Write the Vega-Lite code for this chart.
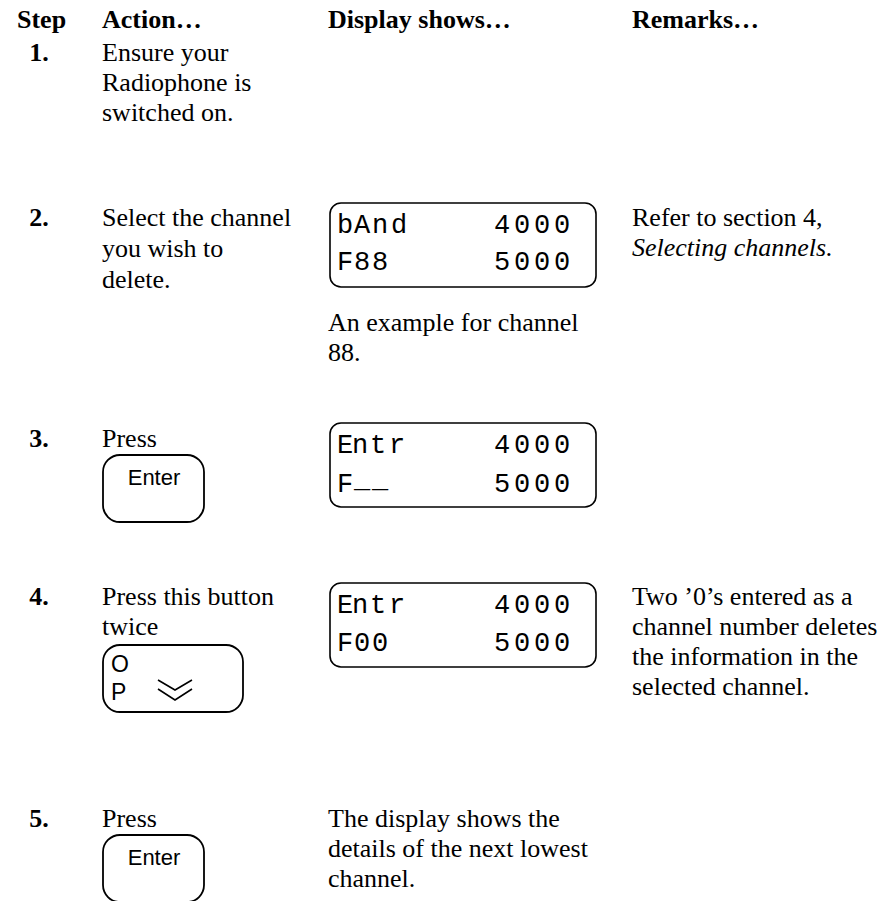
{
  "$schema": "https://vega.github.io/schema/vega-lite/v6.json",
  "width": 886,
  "height": 901,
  "padding": 0,
  "autosize": {"type": "none"},
  "background": "white",
  "config": {"view": {"stroke": null}},
  "datasets": {
    "headers": [
      {"t": "Step", "x": 17, "y": 28},
      {"t": "Action…", "x": 102, "y": 28},
      {"t": "Display shows…", "x": 328, "y": 28},
      {"t": "Remarks…", "x": 632, "y": 28}
    ],
    "steps": [
      {"t": "1.", "x": 39, "y": 61},
      {"t": "2.", "x": 39, "y": 226},
      {"t": "3.", "x": 39, "y": 447},
      {"t": "4.", "x": 39, "y": 605},
      {"t": "5.", "x": 39, "y": 827}
    ],
    "body": [
      {"t": "Ensure your", "x": 102, "y": 61},
      {"t": "Radiophone is", "x": 102, "y": 91},
      {"t": "switched on.", "x": 102, "y": 121},
      {"t": "Select the channel", "x": 102, "y": 226},
      {"t": "you wish to", "x": 102, "y": 257},
      {"t": "delete.", "x": 102, "y": 288},
      {"t": "An example for channel", "x": 328, "y": 331},
      {"t": "88.", "x": 328, "y": 361},
      {"t": "Refer to section 4,", "x": 632, "y": 226},
      {"t": "Press", "x": 102, "y": 447},
      {"t": "Press this button", "x": 102, "y": 605},
      {"t": "twice", "x": 102, "y": 635},
      {"t": "Two ’0’s entered as a", "x": 632, "y": 605},
      {"t": "channel number deletes", "x": 632, "y": 635},
      {"t": "the information in the", "x": 632, "y": 665},
      {"t": "selected channel.", "x": 632, "y": 695},
      {"t": "Press", "x": 102, "y": 827},
      {"t": "The display shows the", "x": 328, "y": 827},
      {"t": "details of the next lowest", "x": 328, "y": 857},
      {"t": "channel.", "x": 328, "y": 887}
    ],
    "italic": [
      {"t": "Selecting channels.", "x": 632, "y": 256}
    ],
    "keys": [
      {"t": "Enter", "x": 154, "y": 485},
      {"t": "Enter", "x": 154, "y": 865}
    ],
    "keys2": [
      {"t": "O", "x": 111, "y": 672},
      {"t": "P", "x": 111, "y": 700}
    ],
    "lcd": [
      {"t": "b", "x": 345, "y": 233}, {"t": "A", "x": 362, "y": 233}, {"t": "n", "x": 380, "y": 233}, {"t": "d", "x": 399, "y": 233},
      {"t": "4", "x": 502, "y": 233}, {"t": "0", "x": 522, "y": 233}, {"t": "0", "x": 542, "y": 233}, {"t": "0", "x": 562, "y": 233},
      {"t": "F", "x": 345, "y": 270}, {"t": "8", "x": 362, "y": 270}, {"t": "8", "x": 380, "y": 270},
      {"t": "5", "x": 502, "y": 270}, {"t": "0", "x": 522, "y": 270}, {"t": "0", "x": 542, "y": 270}, {"t": "0", "x": 562, "y": 270},
      {"t": "E", "x": 345, "y": 453}, {"t": "n", "x": 360, "y": 453}, {"t": "t", "x": 378, "y": 453}, {"t": "r", "x": 397, "y": 453},
      {"t": "4", "x": 502, "y": 453}, {"t": "0", "x": 522, "y": 453}, {"t": "0", "x": 542, "y": 453}, {"t": "0", "x": 562, "y": 453},
      {"t": "F", "x": 345, "y": 492}, {"t": "_", "x": 362, "y": 487}, {"t": "_", "x": 380, "y": 487},
      {"t": "5", "x": 502, "y": 492}, {"t": "0", "x": 522, "y": 492}, {"t": "0", "x": 542, "y": 492}, {"t": "0", "x": 562, "y": 492},
      {"t": "E", "x": 345, "y": 613}, {"t": "n", "x": 360, "y": 613}, {"t": "t", "x": 378, "y": 613}, {"t": "r", "x": 397, "y": 613},
      {"t": "4", "x": 502, "y": 613}, {"t": "0", "x": 522, "y": 613}, {"t": "0", "x": 542, "y": 613}, {"t": "0", "x": 562, "y": 613},
      {"t": "F", "x": 345, "y": 651}, {"t": "0", "x": 362, "y": 651}, {"t": "0", "x": 380, "y": 651},
      {"t": "5", "x": 502, "y": 651}, {"t": "0", "x": 522, "y": 651}, {"t": "0", "x": 542, "y": 651}, {"t": "0", "x": 562, "y": 651}
    ],
    "buttons": [
      {"x": 103, "x2": 204, "y": 455, "y2": 522},
      {"x": 103, "x2": 243, "y": 645, "y2": 712},
      {"x": 103, "x2": 204, "y": 835, "y2": 902}
    ],
    "displays": [
      {"x": 330, "x2": 596, "y": 203, "y2": 287},
      {"x": 330, "x2": 596, "y": 423, "y2": 507},
      {"x": 330, "x2": 596, "y": 583, "y2": 667}
    ],
    "chevron": [
      {"g": "a", "o": 1, "x": 158, "y": 680},
      {"g": "a", "o": 2, "x": 175, "y": 690},
      {"g": "a", "o": 3, "x": 192, "y": 680},
      {"g": "b", "o": 1, "x": 158, "y": 689},
      {"g": "b", "o": 2, "x": 175, "y": 700},
      {"g": "b", "o": 3, "x": 192, "y": 689}
    ]
  },
  "encoding": {
    "x": {"field": "x", "type": "quantitative", "scale": {"domain": [0, 886], "nice": false, "zero": false}, "axis": null},
    "y": {"field": "y", "type": "quantitative", "scale": {"domain": [0, 901], "nice": false, "zero": false, "reverse": true}, "axis": null}
  },
  "layer": [
    {
      "data": {"name": "buttons"},
      "mark": {"type": "rect", "cornerRadius": 17, "fill": "white", "fillOpacity": 0, "stroke": "black", "strokeWidth": 1.8},
      "encoding": {"x2": {"field": "x2"}, "y2": {"field": "y2"}}
    },
    {
      "data": {"name": "displays"},
      "mark": {"type": "rect", "cornerRadius": 11, "fill": "white", "fillOpacity": 0, "stroke": "black", "strokeWidth": 1.6},
      "encoding": {"x2": {"field": "x2"}, "y2": {"field": "y2"}}
    },
    {
      "data": {"name": "chevron"},
      "mark": {"type": "line", "color": "black", "strokeWidth": 1.6},
      "encoding": {"detail": {"field": "g"}, "order": {"field": "o"}}
    },
    {
      "data": {"name": "headers"},
      "mark": {"type": "text", "font": "Liberation Serif", "fontSize": 26, "fontWeight": "bold", "align": "left", "baseline": "alphabetic", "color": "black"},
      "encoding": {"text": {"field": "t"}}
    },
    {
      "data": {"name": "steps"},
      "mark": {"type": "text", "font": "Liberation Serif", "fontSize": 26, "fontWeight": "bold", "align": "center", "baseline": "alphabetic", "color": "black"},
      "encoding": {"text": {"field": "t"}}
    },
    {
      "data": {"name": "body"},
      "mark": {"type": "text", "font": "Liberation Serif", "fontSize": 26, "align": "left", "baseline": "alphabetic", "color": "black"},
      "encoding": {"text": {"field": "t"}}
    },
    {
      "data": {"name": "italic"},
      "mark": {"type": "text", "font": "Liberation Serif", "fontSize": 26, "fontStyle": "italic", "align": "left", "baseline": "alphabetic", "color": "black"},
      "encoding": {"text": {"field": "t"}}
    },
    {
      "data": {"name": "keys"},
      "mark": {"type": "text", "font": "Liberation Sans", "fontSize": 22, "align": "center", "baseline": "alphabetic", "color": "black"},
      "encoding": {"text": {"field": "t"}}
    },
    {
      "data": {"name": "keys2"},
      "mark": {"type": "text", "font": "Liberation Sans", "fontSize": 23, "align": "left", "baseline": "alphabetic", "color": "black"},
      "encoding": {"text": {"field": "t"}}
    },
    {
      "data": {"name": "lcd"},
      "mark": {"type": "text", "font": "Liberation Mono", "fontSize": 27, "align": "center", "baseline": "alphabetic", "color": "black"},
      "encoding": {"text": {"field": "t"}}
    }
  ]
}
